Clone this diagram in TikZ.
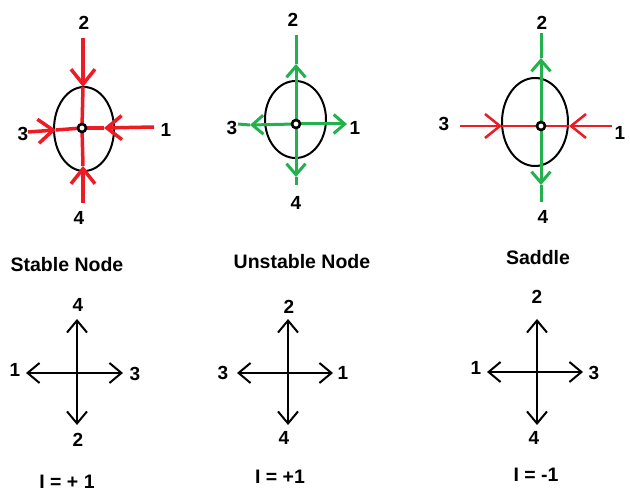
\documentclass[tikz,border=0pt]{standalone}
\usepackage{fontspec}
\setmainfont{Liberation Sans}
\usetikzlibrary{arrows.meta}
\definecolor{pred}{HTML}{ED1C24}
\definecolor{pgreen}{HTML}{22B14C}
\begin{document}
\begin{tikzpicture}[x=1pt,y=-1pt,
  lbl/.style={font=\fontsize{19}{21}\selectfont\bfseries, inner sep=0pt},
  ttl/.style={font=\fontsize{19.5}{21}\selectfont\bfseries, inner sep=0pt},
  ell/.style={draw=black, line width=2pt},
  hub/.style={draw=black, fill=white, line width=2.6pt, circle, minimum size=8pt, inner sep=0pt},
  redl/.style={draw=pred, line width=3.5pt},
  redt/.style={draw=pred, line width=2.5pt},
  grnl/.style={draw=pgreen, line width=3pt},
  blkl/.style={draw=black, line width=2pt},
  bigbarb/.style={-{Straight Barb[length=15pt,width=24pt]}},
  midbarb/.style={-{Straight Barb[length=12pt,width=20pt]}},
  smbarb/.style={-{Straight Barb[length=11pt,width=19pt]}}
]
\useasboundingbox (0,0) rectangle (630,494);
\fill[white] (0,0) rectangle (630,494);

% ---------- Panel 1: stable node ----------
\coordinate (c1) at (82,128);
\draw[ell] (84,129) ellipse [x radius=30, y radius=42];
\coordinate (t1) at (83,38);  \coordinate (t1h) at (83,87);
\coordinate (b1) at (83,203); \coordinate (b1h) at (83,166);
\coordinate (l1) at (28,132); \coordinate (l1h) at (56,130);
\coordinate (r1) at (154,127); \coordinate (r1h) at (104,128);
\draw[redl,bigbarb] (t1) -- (t1h);
\draw[redl] (t1h) -- (c1);
\draw[redl,bigbarb] (b1) -- (b1h);
\draw[redl] (b1h) -- (c1);
\draw[redl,bigbarb] (l1) -- (l1h);
\draw[redl] (l1h) -- (c1);
\draw[redl,bigbarb] (r1) -- (r1h);
\draw[redl] (r1h) -- (c1);
\node[hub] (h1) at (c1) {};
\node[lbl] (p1n2) at (84,23) {2};
\node[lbl] (p1n4) at (79,218) {4};
\node[lbl] (p1n3) at (23,134) {3};
\node[lbl] (p1n1) at (166,130) {1};

% ---------- Panel 2: unstable node ----------
\coordinate (c2) at (296,124);
\draw[ell] (295.5,119.5) ellipse [x radius=30.5, y radius=38.5];
\coordinate (t2) at (296,35);  \coordinate (t2h) at (296,64);
\coordinate (b2) at (296,185); \coordinate (b2h) at (296,177);
\coordinate (l2) at (238,124); \coordinate (l2h) at (250,125);
\coordinate (r2) at (347,124);
\draw[grnl,smbarb] (c2) -- (t2h);
\draw[grnl] (t2h) -- (t2);
\draw[grnl,smbarb] (c2) -- (b2h);
\draw[grnl] (b2h) -- (b2);
\draw[grnl,smbarb] (c2) -- (l2h);
\draw[grnl] (l2h) -- (l2);
\draw[grnl,smbarb] (c2) -- (r2);
\node[hub] (h2) at (c2) {};
\node[lbl] (p2n2) at (293,20) {2};
\node[lbl] (p2n4) at (296,203) {4};
\node[lbl] (p2n3) at (232,128) {3};
\node[lbl] (p2n1) at (355,128) {1};

% ---------- Panel 3: saddle ----------
\coordinate (c3) at (541,126);
\draw[ell] (535,122) ellipse [x radius=33, y radius=44];
\coordinate (t3) at (541,33);  \coordinate (t3h) at (541,58);
\coordinate (b3) at (541,202); \coordinate (b3h) at (541,185);
\coordinate (l3) at (460,126); \coordinate (l3h) at (502,126);
\coordinate (r3) at (612,126); \coordinate (r3h) at (569,126);
\draw[redt,bigbarb] (l3) -- (l3h);
\draw[redt,bigbarb] (r3) -- (r3h);
\draw[redt] (l3h) -- (r3h);
\draw[grnl,smbarb] (c3) -- (t3h);
\draw[grnl] (t3h) -- (t3);
\draw[grnl,smbarb] (c3) -- (b3h);
\draw[grnl] (b3h) -- (b3);
\node[hub] (h3) at (c3) {};
\node[lbl] (p3n2) at (542,23) {2};
\node[lbl] (p3n4) at (543,217) {4};
\node[lbl] (p3n3) at (444,124) {3};
\node[lbl] (p3n1) at (620,133) {1};

% ---------- Titles ----------
\node[ttl] (tt1) at (67,265) {Stable Node};
\node[ttl] (tt2) at (302,262) {Unstable Node};
\node[ttl] (tt3) at (538,258) {Saddle};

% ---------- Bottom crosses ----------
\coordinate (q1) at (77,373);
\coordinate (q1u) at (77,319); \coordinate (q1d) at (77,425);
\coordinate (q1l) at (26,373); \coordinate (q1r) at (123,373);
\draw[blkl,midbarb] (q1) -- (q1u);
\draw[blkl,midbarb] (q1) -- (q1d);
\draw[blkl,midbarb] (q1) -- (q1l);
\draw[blkl,midbarb] (q1) -- (q1r);
\node[lbl] (b1n4) at (78,305) {4};
\node[lbl] (b1n2) at (78,440) {2};
\node[lbl] (b1n1) at (15,370) {1};
\node[lbl] (b1n3) at (135,374) {3};

\coordinate (q2) at (288,373);
\coordinate (q2u) at (288,319); \coordinate (q2d) at (288,425);
\coordinate (q2l) at (237,373); \coordinate (q2r) at (333,373);
\draw[blkl,midbarb] (q2) -- (q2u);
\draw[blkl,midbarb] (q2) -- (q2d);
\draw[blkl,midbarb] (q2) -- (q2l);
\draw[blkl,midbarb] (q2) -- (q2r);
\node[lbl] (b2n2) at (289,307) {2};
\node[lbl] (b2n4) at (284,438) {4};
\node[lbl] (b2n3) at (223,373) {3};
\node[lbl] (b2n1) at (343,373) {1};

\coordinate (q3) at (537,372);
\coordinate (q3u) at (537,319); \coordinate (q3d) at (537,425);
\coordinate (q3l) at (487,372); \coordinate (q3r) at (583,372);
\draw[blkl,midbarb] (q3) -- (q3u);
\draw[blkl,midbarb] (q3) -- (q3d);
\draw[blkl,midbarb] (q3) -- (q3l);
\draw[blkl,midbarb] (q3) -- (q3r);
\node[lbl] (b3n2) at (537,297) {2};
\node[lbl] (b3n4) at (534,438) {4};
\node[lbl] (b3n1) at (476,368) {1};
\node[lbl] (b3n3) at (594,373) {3};

% ---------- Indices ----------
\node[ttl] (ix1) at (67,482) {I = + 1};
\node[ttl] (ix2) at (280,477) {I = +1};
\node[ttl] (ix3) at (536,475) {I = -1};
\end{tikzpicture}
\end{document}
